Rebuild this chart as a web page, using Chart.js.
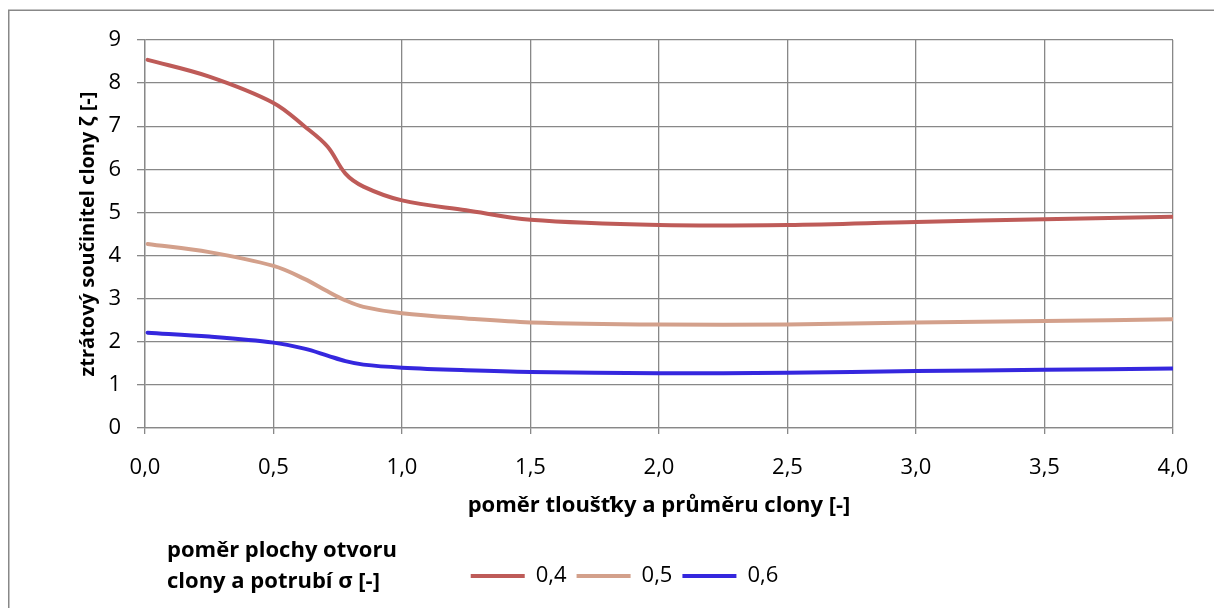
<!DOCTYPE html>
<html>
<head>
<meta charset="utf-8">
<script src="https://cdn.jsdelivr.net/npm/chart.js@4"></script>
<style>
  html, body { margin: 0; padding: 0; background: #fff; }
  #wrap { width: 1214px; height: 608px; position: relative; }
</style>
</head>
<body>
<div id="wrap"><canvas id="chart"></canvas></div>
<script>
// pomer tloustky a prumeru clony
const ratios = [0.01, 0.25, 0.5, 0.62, 0.71, 0.78, 0.85, 1.0, 1.25, 1.5, 2.0, 2.5, 3.0, 3.5, 4.0];
const zeta04 = [8.54, 8.15, 7.54, 7.0, 6.53, 5.9, 5.6, 5.28, 5.05, 4.83, 4.71, 4.71, 4.78, 4.84, 4.9];
const zeta05 = [4.27, 4.08, 3.76, 3.46, 3.17, 2.96, 2.81, 2.66, 2.54, 2.45, 2.4, 2.4, 2.45, 2.48, 2.52];
const zeta06 = [2.21, 2.12, 1.98, 1.84, 1.68, 1.55, 1.47, 1.4, 1.34, 1.3, 1.27, 1.28, 1.32, 1.35, 1.38];
const seriesLabels = ["0,4", "0,5", "0,6"];
const colors = ["#BE5B58", "#D3A08B", "#3527DE"];

const FONT = "'Open Sans', sans-serif";

const toPoints = (ys) => ratios.map((x, i) => ({ x: x, y: ys[i] }));

// ramecek a popis legendy
const extras = {
  id: "extras",
  beforeDraw(chart) {
    const ctx = chart.ctx;
    ctx.save();
    ctx.fillStyle = "#fff";
    ctx.fillRect(0, 0, chart.width, chart.height);
    ctx.strokeStyle = "#888";
    ctx.lineWidth = 1.5;
    ctx.strokeRect(8.75, 10.25, chart.width + 10, chart.height + 10);
    ctx.restore();
  },
  afterDraw(chart) {
    const ctx = chart.ctx;
    ctx.save();
    ctx.fillStyle = "#000";
    ctx.font = "bold 22px " + FONT;
    ctx.textBaseline = "middle";
    ctx.fillText("poměr plochy otvoru", 167, 551);
    ctx.fillText("clony a potrubí σ [-]", 167, 582);
    ctx.restore();
  }
};

new Chart(document.getElementById("chart"), {
  type: "line",
  data: {
    datasets: [zeta04, zeta05, zeta06].map((ys, i) => ({
      label: seriesLabels[i],
      data: toPoints(ys),
      borderColor: colors[i],
      backgroundColor: colors[i],
      borderWidth: 4,
      pointRadius: 0,
      tension: 0.35,
      borderCapStyle: "round"
    }))
  },
  options: {
    responsive: true,
    maintainAspectRatio: false,
    animation: false,
    layout: { padding: { left: 76, top: 40, right: 41, bottom: 11 } },
    plugins: {
      tooltip: { enabled: false },
      legend: {
        position: "bottom",
        labels: {
          color: "#000",
          font: { family: FONT, size: 22 },
          boxWidth: 54,
          boxHeight: 0,
          padding: 10,
          generateLabels(chart) {
            return chart.data.datasets.map((ds, i) => ({
              text: ds.label,
              strokeStyle: ds.borderColor,
              fillStyle: ds.borderColor,
              lineWidth: 4,
              lineCap: "round",
              datasetIndex: i
            }));
          }
        }
      }
    },
    scales: {
      x: {
        type: "linear",
        min: 0,
        max: 4,
        grid: { color: "#888", lineWidth: 1.3, tickLength: 6, tickColor: "#888" },
        border: { color: "#888", width: 1.3 },
        ticks: {
          stepSize: 0.5,
          padding: 21,
          color: "#000",
          font: { family: FONT, size: 22 },
          callback: (v) => v.toFixed(1).replace(".", ",")
        },
        title: {
          display: true,
          text: "poměr tloušťky a průměru clony [-]",
          color: "#000",
          font: { family: FONT, size: 22, weight: "bold" },
          padding: { top: 0, bottom: 36 }
        },
        afterFit(scale) { scale.height = 127; }
      },
      y: {
        min: 0,
        max: 9,
        grid: { color: "#888", lineWidth: 1.3, tickLength: 8, tickColor: "#888" },
        border: { color: "#888", width: 1.3 },
        ticks: {
          stepSize: 1,
          padding: 16,
          color: "#000",
          font: { family: FONT, size: 22 }
        },
        title: {
          display: true,
          text: "ztrátový součinitel clony ζ [-]",
          color: "#000",
          font: { family: FONT, size: 20, weight: "bold" },
          padding: 0
        },
        afterFit(scale) { scale.width = 69; }
      }
    }
  },
  plugins: [extras]
});
</script>
</body>
</html>
